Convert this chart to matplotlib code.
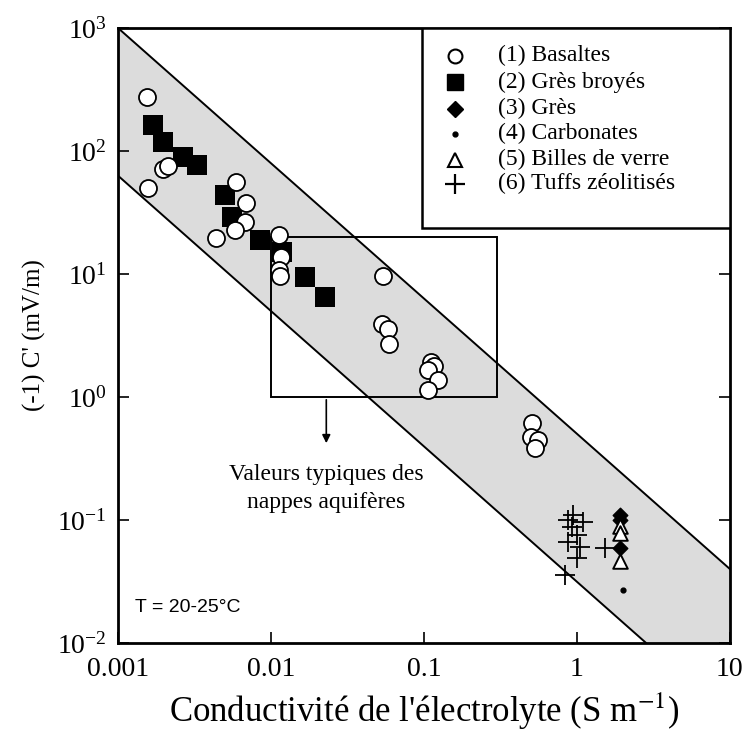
import numpy as np
import matplotlib
matplotlib.use("Agg")
import matplotlib.pyplot as plt
from matplotlib.patches import Rectangle

plt.rcParams['font.family'] = ['Liberation Serif', 'DejaVu Serif']
plt.rcParams['mathtext.fontset'] = 'stix'

# (1) Basaltes
basalt_x = [0.00154, 0.00158, 0.00198, 0.00213, 0.0059, 0.0069, 0.0068, 0.0058, 0.0044,
            0.0112, 0.0117, 0.0112, 0.0115, 0.054, 0.053, 0.058, 0.059,
            0.112, 0.117, 0.107, 0.123, 0.107, 0.506, 0.50, 0.556, 0.53]
basalt_y = [276, 50, 72, 75, 56, 37.6, 26.6, 22.8, 19.5,
            20.7, 13.8, 10.8, 9.6, 9.6, 3.9, 3.6, 2.7,
            1.94, 1.78, 1.66, 1.37, 1.14, 0.615, 0.473, 0.45, 0.385]
# (2) Grès broyés
gresb_x = [0.00169, 0.00198, 0.00267, 0.00327, 0.0050, 0.00553, 0.00847, 0.01175, 0.01667, 0.02254]
gresb_y = [163, 119, 90, 77, 43.8, 29.2, 18.9, 15.2, 9.5, 6.5]
# (3) Grès
gres_x = [1.91, 1.91, 1.91]
gres_y = [0.11, 0.1, 0.059]
# (4) Carbonates
carb_x = [2.0]
carb_y = [0.027]
# (5) Billes de verre
billes_x = [1.91, 1.91, 1.91]
billes_y = [0.09, 0.078, 0.046]
# (6) Tuffs zéolitisés
tuff_x = [0.94, 0.87, 1.1, 0.93, 1.0, 0.87, 1.05, 1.0, 0.84, 1.52]
tuff_y = [0.11, 0.10, 0.096, 0.087, 0.075, 0.066, 0.060, 0.049, 0.036, 0.059]

# band limits
band_x = [0.001, 10]
band_upper = [1000, 0.04]
band_lower = [63, 0.0025]

# box of typical aquifer values
box_x = [0.01, 0.3]
box_y = [1, 20]

labels = ['(1) Basaltes', '(2) Grès broyés', '(3) Grès', '(4) Carbonates',
          '(5) Billes de verre', '(6) Tuffs zéolitisés']

fig = plt.figure(figsize=(7.47, 7.51), dpi=100)
ax = fig.add_axes([0.158, 0.1438, 0.819, 0.8189])
ax.set_xscale('log')
ax.set_yscale('log')
ax.set_xlim(0.001, 10)
ax.set_ylim(0.01, 1000)

ax.fill_between(band_x, band_lower, band_upper, color='#dcdcdc', zorder=0, lw=0)
ax.plot(band_x, band_upper, color='black', lw=1.4, zorder=1)
ax.plot(band_x, band_lower, color='black', lw=1.4, zorder=1)

ax.add_patch(Rectangle((box_x[0], box_y[0]), box_x[1] - box_x[0], box_y[1] - box_y[0],
                       fill=False, edgecolor='black', lw=1.4, zorder=2))
ax.annotate('', xy=(0.023, 0.4), xytext=(0.023, 1),
            arrowprops=dict(arrowstyle='-|>', color='black', lw=1.2, mutation_scale=12))
ax.text(0.023, 0.18, 'Valeurs typiques des\nnappes aquifères', ha='center', va='center',
        fontsize=17, linespacing=1.4)
ax.text(0.00129, 0.0196, 'T = 20-25°C', fontsize=14, family='Liberation Sans',
        ha='left', va='center')

ax.scatter(gresb_x, gresb_y, marker='s', s=190, c='black', zorder=3, lw=0)
ax.scatter(basalt_x, basalt_y, marker='o', s=150, facecolors='white', edgecolors='black',
           lw=1.3, zorder=4)
ax.scatter(gres_x, gres_y, marker='D', s=55, c='black', zorder=4)
ax.scatter(billes_x, billes_y, marker='^', s=110, facecolors='white', edgecolors='black',
           lw=1.4, zorder=5)
ax.scatter(carb_x, carb_y, marker='o', s=12, c='black', zorder=4)
ax.scatter(tuff_x, tuff_y, marker='+', s=200, c='black', lw=1.3, zorder=4)

# legend drawn by hand to match the boxed layout
ax.add_patch(Rectangle((0.497, 0.675), 0.503, 0.325, transform=ax.transAxes,
                       facecolor='white', edgecolor='black', lw=1.8, zorder=10))
leg_rows = [0.955, 0.912, 0.869, 0.828, 0.786, 0.747]
leg_styles = [
    dict(marker='o', ms=10, mfc='white', mec='black', mew=1.5),
    dict(marker='s', ms=12, mfc='black', mec='black'),
    dict(marker='D', ms=8, mfc='black', mec='black'),
    dict(marker='o', ms=3.5, mfc='black', mec='black'),
    dict(marker='^', ms=10, mfc='white', mec='black', mew=1.5),
    dict(marker='+', ms=15, mec='black', mew=1.6),
]
for yy, st, lab in zip(leg_rows, leg_styles, labels):
    ax.plot([0.551], [yy], ls='', transform=ax.transAxes, zorder=11, clip_on=False, **st)
    ax.text(0.621, yy, lab, transform=ax.transAxes, fontsize=17, ha='left', va='center',
            zorder=11)

ax.set_xticks([0.001, 0.01, 0.1, 1, 10])
ax.set_xticklabels(['0.001', '0.01', '0.1', '1', '10'])
ax.minorticks_off()
ax.tick_params(axis='both', which='major', direction='in', length=8, width=1.2,
               labelsize=20, right=True)
ax.tick_params(axis='x', pad=10)
ax.tick_params(axis='y', pad=8)
for sp in ax.spines.values():
    sp.set_linewidth(2)

ax.set_xlabel("Conductivité de l'électrolyte (S m$^{-1}$)", fontsize=25, labelpad=6)
ax.set_ylabel("(-1) C' (mV/m)", fontsize=18, labelpad=8)

fig.savefig('out.png', dpi=100)
